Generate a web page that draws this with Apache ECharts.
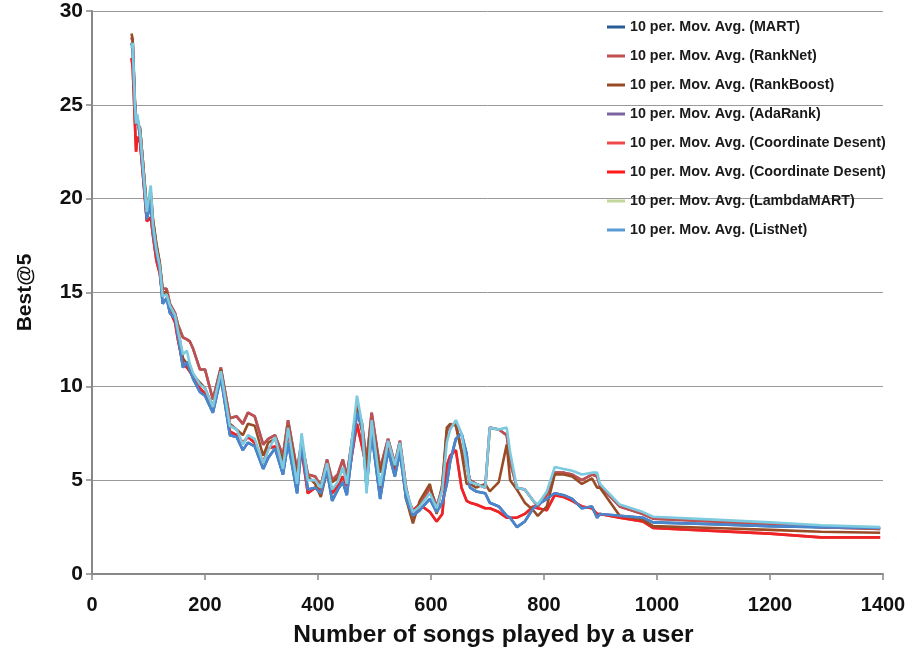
<!DOCTYPE html>
<html>
<head>
<meta charset="utf-8">
<script src="https://cdn.jsdelivr.net/npm/echarts@6/dist/echarts.min.js"></script>
<style>html,body{margin:0;padding:0;background:#fff}#c{width:919px;height:649px}</style>
</head>
<body>
<div id="c"></div>
<script>
const xTicks = [0,200,400,600,800,1000,1200,1400];
const yTicks = [0,5,10,15,20,25,30];

const songs = [70,72,76,78,80,85,90,97,104,108,114,120,125,132,138,147,152,161,168,173,179,191,200,214,228,244,256,267,276,288,303,312,324,338,347,363,371,382,395,405,416,425,435,444,451,469,478,486,495,510,524,536,545,556,568,580,598,610,620,628,634,644,654,663,669,680,696,704,720,734,740,752,766,781,789,805,819,835,850,867,885,894,899,934,975,993,1100,1200,1290,1395];

const lambdaMART = [28.0,28.3,25.0,24.0,24.5,23.6,21.8,19.3,20.7,18.6, 17.3,16.4,14.8,14.9,14.3,13.8,13.0,11.7,11.9,11.2, 10.7,10.1,9.9,8.9,10.8,7.9,7.7,6.9,7.4,7.2, 5.9,6.6,7.3,5.6,7.8,4.8,7.5,5.0,5.0,4.6, 5.9,4.5,4.9,5.7,4.8,9.5,8.0,4.3,8.2,4.7, 7.1,5.8,7.0,4.5,3.3,3.6,4.3,3.5,4.5,7.0, 7.7,8.2,7.5,5.8,4.9,4.8,4.6,7.8,7.7,7.8, 6.5,4.6,4.5,3.9,3.7,4.4,5.7,5.6,5.5,5.3, 5.4,5.4,4.8,3.7,3.3,3.05,2.9,2.75,2.6,2.5];

const listNet = [28.3,28.0,24.9,24.0,24.4,23.3,21.5,18.9,19.8,18.2, 17.1,16.2,14.4,14.7,13.9,13.6,12.7,11.0,11.3,10.9, 10.4,9.7,9.5,8.6,10.5,7.4,7.3,6.6,7.0,6.8, 5.6,6.2,6.7,5.3,7.0,4.3,6.9,4.5,4.6,4.3, 5.5,3.9,4.5,4.9,4.2,8.6,7.8,4.6,7.5,4.0, 6.6,5.2,6.5,4.0,3.1,3.4,4.0,3.3,3.8,4.8, 6.0,7.2,7.5,6.4,4.6,4.4,4.3,3.8,3.6,3.1, 3.0,2.5,2.8,3.5,3.7,4.0,4.3,4.2,4.0,3.5, 3.6,3.0,3.2,3.1,3.0,2.75,2.65,2.55,2.5,2.45];

const coordDesent = [27.5,27.0,24.0,22.5,23.3,23.0,21.3,18.8,19.0,18.0, 16.7,16.0,14.8,15.1,14.0,13.4,12.5,11.2,11.0,10.8, 10.5,9.9,9.6,8.9,10.6,7.6,7.4,7.0,7.3,7.0, 5.9,6.7,6.8,5.5,7.6,5.0,6.6,4.3,4.6,4.5, 5.4,4.3,4.7,5.2,4.7,8.0,6.8,5.6,7.6,4.5, 6.9,5.4,6.8,4.2,3.4,3.7,3.3,2.8,3.2,5.8, 6.3,6.6,4.6,3.9,3.8,3.7,3.5,3.5,3.3,3.0, 3.0,3.0,3.2,3.6,3.5,3.4,4.2,4.1,3.9,3.6, 3.5,3.2,3.2,3.0,2.8,2.45,2.3,2.15,1.95,1.95];

const rankBoost = [28.8,28.5,25.2,24.3,24.0,23.8,22.0,19.5,20.4,18.9, 17.6,16.6,15.0,15.0,14.3,13.8,13.1,11.5,11.2,10.8, 10.6,10.2,9.9,8.9,10.9,8.0,7.7,7.4,8.0,7.9, 6.3,7.0,7.2,6.0,7.9,5.3,6.9,5.2,4.8,4.1, 5.5,4.9,5.1,5.6,5.0,8.8,7.6,5.8,8.2,5.4, 7.0,5.7,6.9,4.0,2.7,3.9,4.8,3.2,4.8,7.8, 8.0,7.9,6.5,4.8,4.8,4.6,4.8,4.4,4.9,6.9, 5.0,4.5,3.8,3.4,3.1,3.6,5.3,5.3,5.2,4.8, 5.1,4.6,4.6,3.1,2.9,2.55,2.45,2.35,2.25,2.2];

const rankNet = [28.6,28.4,25.0,24.2,24.1,23.7,22.0,19.4,20.2,18.8, 17.5,16.5,15.2,15.2,14.4,13.9,13.3,12.6,12.5,12.4, 12.0,10.9,10.9,9.3,11.0,8.3,8.4,8.0,8.6,8.4, 6.9,7.2,7.4,6.3,8.2,5.5,7.1,5.3,5.2,4.7, 6.1,5.0,5.3,6.1,5.2,9.0,8.0,6.0,8.6,5.6, 7.2,5.9,7.1,4.6,3.0,3.6,4.6,3.6,4.6,7.6, 7.9,8.0,6.6,5.8,5.0,4.8,4.6,7.8,7.7,7.4, 6.0,4.6,4.5,3.9,3.6,4.2,5.4,5.4,5.3,5.0, 5.3,5.2,4.7,3.6,3.2,2.95,2.8,2.65,2.5,2.4];

// hidden series (fully covered by the visible lines in the picture)
const mart = listNet;
const adaRank = rankNet;
const coordDesent2 = coordDesent;

const names = [
  '10 per. Mov. Avg. (MART)',
  '10 per. Mov. Avg. (RankNet)',
  '10 per. Mov. Avg. (RankBoost)',
  '10 per. Mov. Avg. (AdaRank)',
  '10 per. Mov. Avg. (Coordinate Desent)',
  '10 per. Mov. Avg. (Coordinate Desent)\u200B',
  '10 per. Mov. Avg. (LambdaMART)',
  '10 per. Mov. Avg. (ListNet)'
];
const legendColors = ['#2b5c97','#c0504d','#984c26','#7b64a0','#f0484b','#ff1a1a','#c3d69b','#5b9bd5'];

function pairs(ys){ return songs.map((x,i)=>[x, ys[i]]); }
function line(name, ys, color, z){
  return {name, type:'line', data:pairs(ys), showSymbol:false, symbol:'none',
    lineStyle:{color, width:2.6}, itemStyle:{color}, z, animation:false};
}

const chart = echarts.init(document.getElementById('c'));
chart.setOption({
  backgroundColor:'#fff',
  animation:false,
  grid:{left:92, right:36, top:11, bottom:75, containLabel:false, outerBoundsMode:'none'},
  legend:{
    orient:'vertical', left:602, top:15, itemGap:15.0,
    itemWidth:18, itemHeight:3, icon:'rect',
    textStyle:{fontFamily:'Liberation Sans', fontWeight:'bold', fontSize:14.3, color:'#1a1a1a'},
    data: names.map((n,i)=>({name:n, itemStyle:{color:legendColors[i]}}))
  },
  xAxis:{
    type:'value', min:xTicks[0], max:xTicks[xTicks.length-1], interval:200,
    name:'Number of songs played by a user', nameLocation:'middle', nameGap:49,
    nameTextStyle:{fontFamily:'Liberation Sans', fontWeight:'bold', fontSize:24.5, color:'#111', padding:[0,0,0,12]},
    axisLine:{lineStyle:{color:'#888', width:2}},
    axisTick:{show:true, inside:false, length:6, lineStyle:{color:'#888', width:1.5}},
    axisLabel:{fontFamily:'Liberation Sans', fontWeight:'bold', fontSize:20, color:'#111', margin:21,
      formatter:function(v){return String(v);}},
    splitLine:{show:false}
  },
  yAxis:{
    type:'value', min:yTicks[0], max:yTicks[yTicks.length-1], interval:5,
    name:'Best@5', nameLocation:'middle', nameGap:56, nameRotate:90,
    nameTextStyle:{fontFamily:'Liberation Sans', fontWeight:'bold', fontSize:21, color:'#111'},
    axisLine:{show:true, lineStyle:{color:'#888', width:2}},
    axisTick:{show:true, inside:false, length:6, lineStyle:{color:'#888', width:1.5}},
    axisLabel:{fontFamily:'Liberation Sans', fontWeight:'bold', fontSize:21, color:'#111', margin:9},
    splitLine:{show:true, lineStyle:{color:'#9a9a9a', width:1}}
  },
  series:[
    line(names[0], mart, '#2b5c97', 1),
    line(names[3], adaRank, '#7b64a0', 2),
    line(names[4], coordDesent, '#f0484b', 3),
    line(names[5], coordDesent2, '#ee2326', 4),
    line(names[1], rankNet, '#c0504d', 5),
    line(names[2], rankBoost, '#984c26', 6),
    line(names[7], listNet, '#4a86cc', 7),
    line(names[6], lambdaMART, '#7ccadf', 8)
  ]
});
</script>
</body>
</html>
